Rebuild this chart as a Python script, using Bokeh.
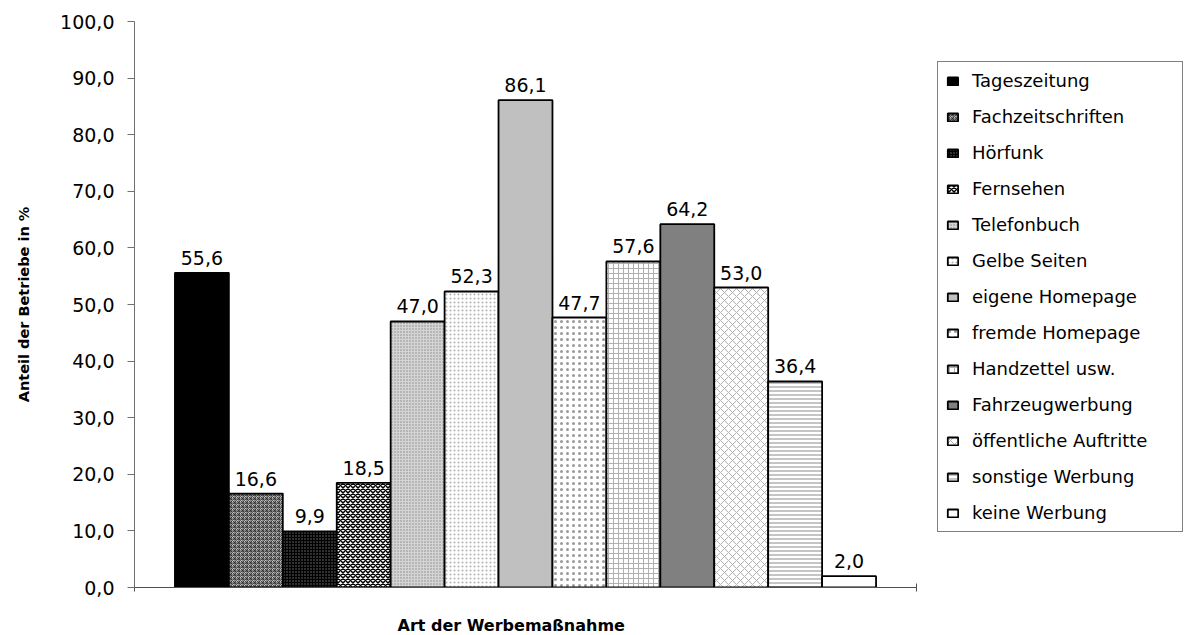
from bokeh.plotting import figure
from bokeh.models import (Range1d, FixedTicker, CustomJSTickFormatter, Legend,
                          LegendItem, ColumnDataSource, Title)
from bokeh.core.properties import value
from bokeh.embed import file_html
from bokeh.resources import INLINE

# ---- data ----
categories = ["Tageszeitung", "Fachzeitschriften", "Hörfunk", "Fernsehen",
              "Telefonbuch", "Gelbe Seiten", "eigene Homepage", "fremde Homepage",
              "Handzettel usw.", "Fahrzeugwerbung", "öffentliche Auftritte",
              "sonstige Werbung", "keine Werbung"]
values = [55.6, 16.6, 9.9, 18.5, 47.0, 52.3, 86.1, 47.7, 57.6, 64.2, 53.0, 36.4, 2.0]
y_ticks = [0, 10, 20, 30, 40, 50, 60, 70, 80, 90, 100]
x_title = "Art der Werbemaßnahme"
y_title = "Anteil der Betriebe in %"

# ---- styles (one per bar) ----
styles = [
    dict(fill_color="black"),
    dict(fill_color="#c4c4c4", hatch_pattern="criss_cross", hatch_color="#2a2a2a", hatch_scale=4, hatch_weight=0.8),
    dict(fill_color="black", hatch_pattern="dot", hatch_color="#777777", hatch_scale=3, hatch_weight=1),
    dict(fill_color="white", hatch_pattern="diagonal_cross", hatch_color="black", hatch_scale=5, hatch_weight=1.5),
    dict(fill_color="#d4d4d4", hatch_pattern="dot", hatch_color="#8a8a8a", hatch_scale=3, hatch_weight=1),
    dict(fill_color="white", hatch_pattern="dot", hatch_color="#b0b0b0", hatch_scale=4, hatch_weight=1),
    dict(fill_color="#c0c0c0"),
    dict(fill_color="white", hatch_pattern="dot", hatch_color="#9a9a9a", hatch_scale=6, hatch_weight=3),
    dict(fill_color="white", hatch_pattern="cross", hatch_color="#b0b0b0", hatch_scale=5, hatch_weight=1),
    dict(fill_color="#808080"),
    dict(fill_color="white", hatch_pattern="diagonal_cross", hatch_color="#b0b0b0", hatch_scale=8, hatch_weight=1),
    dict(fill_color="white", hatch_pattern="horizontal_line", hatch_color="#8a8a8a", hatch_scale=4, hatch_weight=1),
    dict(fill_color="white"),
]

FONT = "DejaVu Sans"
X_START, X_END = -0.25, 19.275   # plot area wide enough to hold the legend
AXIS_END = 14.25                 # visible category-axis extent

p = figure(width=1189, height=635, output_backend="svg", toolbar_location=None,
           x_range=Range1d(X_START, X_END), y_range=Range1d(0, 100),
           min_border_left=134, min_border_right=2, min_border_top=21,
           min_border_bottom=48)
p.outline_line_color = None
p.grid.visible = False
p.background_fill_color = "white"
p.border_fill_color = "white"

renderers = []
xs = list(range(1, len(categories) + 1))
for i, (cat, val) in enumerate(zip(categories, values)):
    r = p.vbar(x=[xs[i]], top=[val], bottom=0, width=1.0,
               line_color="black", line_width=1.8, **styles[i])
    renderers.append(LegendItem(label=cat, renderers=[r]))

labels = [f"{v:.1f}".replace(".", ",") for v in values]
src = ColumnDataSource(dict(x=xs, y=values, t=labels))
p.text(x="x", y="y", text="t", source=src, text_align="center",
       text_baseline="alphabetic", y_offset=-15, text_font=value(FONT),
       text_font_size="19px", text_color="black")

# y axis
yax = p.yaxis[0]
yax.ticker = FixedTicker(ticks=y_ticks)
yax.formatter = CustomJSTickFormatter(code="return tick.toFixed(1).replace('.', ',');")
yax.major_tick_in = 0
yax.major_tick_out = 7
yax.minor_tick_line_color = None
yax.axis_line_color = "#707070"
yax.major_tick_line_color = "#707070"
yax.major_label_text_font = FONT
yax.major_label_text_font_size = "19px"
yax.major_label_text_color = "black"
yax.major_label_standoff = 13
yax.axis_label = y_title
yax.axis_label_text_font = FONT
yax.axis_label_text_font_style = "bold"
yax.axis_label_text_font_size = "14.5px"
yax.axis_label_text_color = "black"
yax.axis_label_standoff = 25

# x axis (line only, with end ticks; blank labels reserve space for the title)
xax = p.xaxis[0]
xax.bounds = (X_START, AXIS_END)
xax.ticker = FixedTicker(ticks=[X_START, AXIS_END])
xax.formatter = CustomJSTickFormatter(code="return ' ';")
xax.major_label_text_font = FONT
xax.major_label_text_font_size = "10px"
xax.major_tick_in = 4
xax.major_tick_out = 4
xax.minor_tick_line_color = None
xax.axis_line_color = "#505050"
xax.major_tick_line_color = "#505050"
xax.major_label_standoff = 8

# x axis title, placed under the category axis
xt = Title(text=x_title, align="left", offset=263, standoff=0,
           text_font=FONT, text_font_style="bold", text_font_size="16px",
           text_color="black")
p.add_layout(xt, "below")

legend = Legend(items=renderers, location=(803, 55),
                border_line_color="black", border_line_width=1,
                background_fill_color="white", background_fill_alpha=1,
                padding=8, spacing=15, margin=0,
                label_height=20, label_width=202, glyph_height=10, glyph_width=13,
                label_standoff=13, label_text_font=FONT,
                label_text_font_size="18px", label_text_color="black",
                label_text_baseline="middle")
p.add_layout(legend)

open("out.html", "w").write(file_html(p, INLINE))
